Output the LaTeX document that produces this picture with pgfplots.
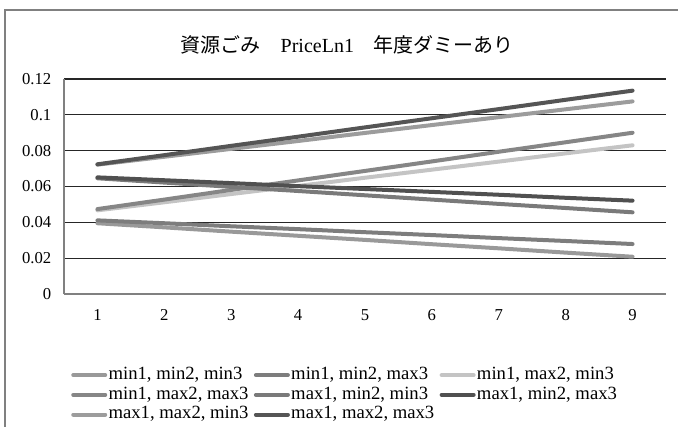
\documentclass[border=0pt]{standalone}
\usepackage{fontspec}
\setmainfont{Liberation Serif}
\newfontfamily\cjk{Noto Sans CJK JP}
\usepackage{pgfplots}
\pgfplotsset{compat=1.18}
\definecolor{cA}{HTML}{999999}
\definecolor{cB}{HTML}{7D7D7D}
\definecolor{cC}{HTML}{C4C4C4}
\definecolor{cD}{HTML}{868686}
\definecolor{cE}{HTML}{7A7A7A}
\definecolor{cF}{HTML}{505050}
\definecolor{cG}{HTML}{9C9C9C}
\definecolor{cH}{HTML}{555555}
\begin{document}
\begin{tikzpicture}
\path[use as bounding box] (0,0) rectangle (508.5pt,-319.5pt);
\draw[color=black!50, line width=1.1pt] (3.75pt,-320pt) -- (3.75pt,-7.5pt) -- (509pt,-7.5pt);
\node[font=\fontsize{15}{17}\selectfont] at (260.5pt,-33.75pt) {{\cjk 資源ごみ}\hspace{1em}PriceLn1\hspace{1em}{\cjk 年度ダミーあり}};
\begin{axis}[
  at={(48pt,-220.5pt)}, anchor=south west,
  scale only axis, width=451.5pt, height=161.25pt,
  xmin=0.5, xmax=9.5, ymin=0, ymax=0.12,
  xtick={1,2,3,4,5,6,7,8,9},
  ytick={0,0.02,0.04,0.06,0.08,0.1,0.12},
  scaled y ticks=false,
  yticklabel style={/pgf/number format/fixed, /pgf/number format/precision=2, xshift=-6pt},
  xticklabel style={yshift=-8pt},
  /pgf/number format/assume math mode=true,
  tick label style={font=\fontsize{12.5}{14}\selectfont},
  major tick length=0pt,
  ymajorgrids, grid style={color=black!85, line width=0.8pt},
  axis x line*=bottom, axis y line*=left,
  axis line style={draw=black!50, line width=1.3pt},
  every axis plot/.append style={line width=3pt, line cap=round, no markers},
  legend image code/.code={\draw[#1, line width=3pt, line cap=round] (1.5pt,0pt) -- (25.5pt,0pt);},
  legend style={at={(0.0116,-0.33)}, anchor=north west, draw=none, fill=none,
    legend columns=3, font=\fontsize{14}{15}\selectfont, inner sep=0pt,
    nodes={inner sep=1pt, text height=9.6pt, text depth=3.2pt},
    /tikz/every even column/.append style={column sep=3pt}},
  legend cell align=left,
]
\addplot[cA] coordinates {(1,0.0395) (2,0.0372) (3,0.0348) (4,0.0325) (5,0.0302) (6,0.0278) (7,0.0255) (8,0.0231) (9,0.0208)};
\addlegendentry{min1, min2, min3}
\addplot[cB] coordinates {(1,0.0411) (2,0.0395) (3,0.0378) (4,0.0362) (5,0.0345) (6,0.0329) (7,0.0312) (8,0.0296) (9,0.0279)};
\addlegendentry{min1, min2, max3}
\addplot[cC] coordinates {(1,0.0467) (2,0.0512) (3,0.0558) (4,0.0603) (5,0.0649) (6,0.0694) (7,0.0739) (8,0.0785) (9,0.0830)};
\addlegendentry{min1, max2, min3}
\addplot[cD] coordinates {(1,0.0474) (2,0.0527) (3,0.0581) (4,0.0634) (5,0.0687) (6,0.0740) (7,0.0794) (8,0.0847) (9,0.0900)};
\addlegendentry{min1, max2, max3}
\addplot[cE] coordinates {(1,0.0646) (2,0.0622) (3,0.0598) (4,0.0575) (5,0.0551) (6,0.0527) (7,0.0503) (8,0.0480) (9,0.0456)};
\addlegendentry{max1, min2, min3}
\addplot[cF] coordinates {(1,0.0651) (2,0.0635) (3,0.0619) (4,0.0602) (5,0.0586) (6,0.0570) (7,0.0554) (8,0.0537) (9,0.0521)};
\addlegendentry{max1, min2, max3}
\addplot[cG] coordinates {(1,0.0722) (2,0.0766) (3,0.0810) (4,0.0854) (5,0.0899) (6,0.0943) (7,0.0987) (8,0.1031) (9,0.1075)};
\addlegendentry{max1, max2, min3}
\addplot[cH] coordinates {(1,0.0724) (2,0.0775) (3,0.0827) (4,0.0878) (5,0.0930) (6,0.0981) (7,0.1032) (8,0.1084) (9,0.1135)};
\addlegendentry{max1, max2, max3}
\end{axis}
\end{tikzpicture}
\end{document}
